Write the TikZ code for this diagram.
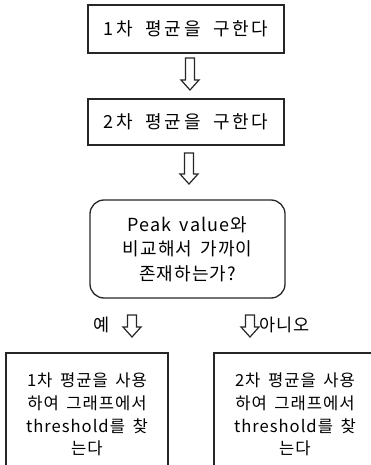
\documentclass[tikz,border=0pt]{standalone}
\usepackage{fontspec}
\newfontfamily\kr{Noto Sans CJK KR}[LetterSpace=6,WordSpace=1.6]
\newfontfamily\krw{Noto Sans CJK KR}[LetterSpace=15,WordSpace=1.9]
\begin{document}
\begin{tikzpicture}[x=1pt,y=-1pt,
  box/.style={draw=black!85,line width=1.3pt,inner sep=0pt,font=\kr\fontsize{17}{24}\selectfont,align=center},
  rbox/.style={box,rounded corners=14pt},
  lbl/.style={inner sep=0pt,font=\kr\fontsize{17.5}{20}\selectfont},
  blk/.style={draw=black!85,line width=1.2pt,fill=white,line join=miter}]
\useasboundingbox (0,0) rectangle (371,465);
\clip (0,0) rectangle (371,465);
\newcommand\blockarr[3]{%
  \draw[blk] (#1-4.5,#2) -- (#1+4.5,#2) -- (#1+4.5,#3-10) -- (#1+9,#3-10) -- (#1,#3) -- (#1-9,#3-10) -- (#1-4.5,#3-10) -- cycle;}
\node[box,minimum width=196pt,minimum height=48pt,font=\krw\fontsize{18}{24}\selectfont] (b1) at (186,29) {1차 평균을 구한다};
\node[box,minimum width=196pt,minimum height=46pt,font=\krw\fontsize{18}{24}\selectfont] (b2) at (186,122) {2차 평균을 구한다};
\node[rbox,minimum width=195pt,minimum height=98pt,font=\kr\fontsize{18}{24.5}\selectfont] (q) at (187.5,249)
  {Peak value와\\비교해서 가까이\\존재하는가?};
\node[box,minimum width=162pt,minimum height=123pt,font=\kr\fontsize{16.6}{22.7}\selectfont] (l) at (87,414.5)
  {1차 평균을 사용\\하여 그래프에서\\threshold를 찾\\는다};
\node[box,minimum width=162pt,minimum height=123pt,font=\kr\fontsize{16.6}{22.7}\selectfont] (r) at (295,414.5)
  {2차 평균을 사용\\하여 그래프에서\\threshold를 찾\\는다};
\blockarr{190}{58}{90}
\blockarr{189}{153}{184}
\blockarr{132}{315}{337}
\blockarr{250}{315}{337}
\node[lbl] (yes) at (102,325) {예};
\node[lbl,anchor=west] (no) at (259,325) {아니오};
\end{tikzpicture}
\end{document}
